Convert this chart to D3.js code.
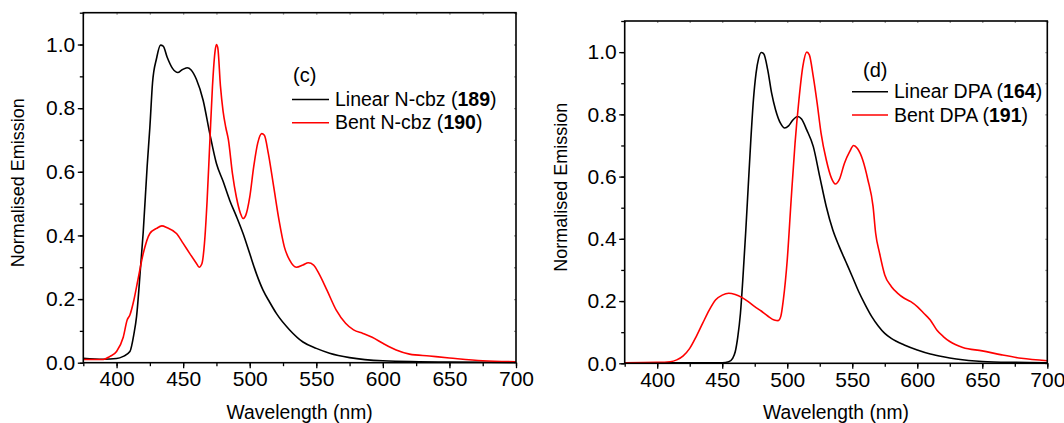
<!DOCTYPE html>
<html>
<head>
<meta charset="utf-8">
<script src="https://cdn.jsdelivr.net/npm/d3@7"></script>
<style>
  html, body { margin: 0; padding: 0; background: #fff; }
  svg { display: block; }
  text { font-family: "Liberation Sans", Arial, sans-serif; fill: #000; }
</style>
</head>
<body>
<svg id="chart" width="1064" height="423"></svg>
<script>
// ---------- DATA ----------
const xTicks = [400, 450, 500, 550, 600, 650, 700];
const yTicks = [0.0, 0.2, 0.4, 0.6, 0.8, 1.0];
const xLabel = "Wavelength (nm)";
const yLabel = "Normalised Emission";

// Panel (c)
const linearNcbzWl = [375,390,400,405,410,413,415,418,420,423,425,427,430,433,435,438,442,446,449,453,456,460,465,470,475,480,485,490,495,500,505,510,515,520,530,540,550,560,575,600,650,700];
const linearNcbzEm = [0.014,0.011,0.013,0.02,0.035,0.09,0.145,0.30,0.41,0.62,0.74,0.88,0.956,0.998,0.995,0.96,0.925,0.912,0.92,0.927,0.92,0.89,0.825,0.72,0.626,0.57,0.51,0.46,0.406,0.343,0.28,0.228,0.19,0.155,0.103,0.065,0.045,0.030,0.016,0.006,0.002,0.001];

const bentNcbzWl = [375,390,395,400,405,408,410,413,416,420,425,430,434,438,445,450,455,460,462,464,466,468,470,472,474,475,476,478,480,482,484,487,490,493,495,497,500,503,506,509,511,514,518,522,526,530,535,540,544,548,552,558,565,572,578,585,592,600,610,620,635,650,675,700];
const bentNcbzEm = [0.01,0.01,0.02,0.035,0.08,0.135,0.15,0.197,0.26,0.343,0.406,0.422,0.43,0.424,0.406,0.375,0.343,0.312,0.30,0.31,0.375,0.51,0.69,0.867,0.98,1.0,0.99,0.87,0.79,0.74,0.70,0.595,0.52,0.47,0.453,0.463,0.52,0.616,0.69,0.72,0.715,0.657,0.553,0.448,0.364,0.322,0.30,0.307,0.314,0.307,0.28,0.228,0.165,0.124,0.103,0.092,0.08,0.061,0.04,0.027,0.021,0.015,0.006,0.003];

// Panel (d)
const linearDpaWl = [375,450,455,458,460,462,464,466,468,470,472,474,476,478,480,482,485,488,491,495,498,501,504,508,511,515,520,525,530,535,540,545,550,555,560,565,570,575,580,590,600,610,620,630,650,675,700];
const linearDpaEm = [0.002,0.002,0.005,0.016,0.037,0.086,0.16,0.28,0.418,0.568,0.718,0.847,0.932,0.98,0.999,0.994,0.943,0.868,0.815,0.77,0.756,0.763,0.78,0.793,0.785,0.75,0.697,0.60,0.504,0.429,0.375,0.327,0.279,0.23,0.188,0.15,0.12,0.096,0.08,0.059,0.043,0.03,0.021,0.014,0.006,0.003,0.002];

const bentDpaWl = [375,400,410,415,420,425,430,435,440,445,450,455,460,465,470,475,480,485,490,493,495,497,500,503,506,509,512,515,517,520,523,526,530,534,537,540,544,548,551,554,558,562,566,568,571,575,580,585,590,595,600,605,610,615,620,625,635,650,665,680,700];
const bentDpaEm = [0.002,0.003,0.005,0.011,0.024,0.048,0.086,0.129,0.171,0.204,0.219,0.225,0.221,0.212,0.198,0.182,0.168,0.152,0.139,0.137,0.15,0.204,0.332,0.525,0.707,0.847,0.954,1.0,0.991,0.922,0.836,0.74,0.654,0.595,0.576,0.59,0.643,0.68,0.70,0.69,0.654,0.59,0.504,0.418,0.354,0.284,0.247,0.225,0.209,0.198,0.182,0.161,0.139,0.107,0.086,0.07,0.051,0.04,0.027,0.016,0.008];

const panelTags = ["(c)", "(d)"];
const legendNames = [
  ["Linear N-cbz (", "189", ")"], ["Bent N-cbz (", "190", ")"],
  ["Linear DPA (", "164", ")"], ["Bent DPA (", "191", ")"]
];
const seriesColors = ["#000000", "#ff0000"];

// ---------- DRAW ----------
const svg = d3.select("#chart");

const panels = [
  { left: 83.3, right: 516, top: 12.7, bottom: 362.7, yTitleX: 24,
    series: [[linearNcbzWl, linearNcbzEm], [bentNcbzWl, bentNcbzEm]],
    tag: panelTags[0], names: [legendNames[0], legendNames[1]],
    legend: { tagX: 293, tagY: 82, lineX1: 292, lineX2: 329, y1: 99.5, y2: 122.7, textX: 335 } },
  { left: 624.7, right: 1047.3, top: 21, bottom: 363.3, yTitleX: 567,
    series: [[linearDpaWl, linearDpaEm], [bentDpaWl, bentDpaEm]],
    tag: panelTags[1], names: [legendNames[2], legendNames[3]],
    legend: { tagX: 863, tagY: 77, lineX1: 852, lineX2: 888, y1: 91.7, y2: 115, textX: 894 } }
];

panels.forEach(p => {
  const x = d3.scaleLinear().domain([375, 700]).range([p.left, p.right]);
  const y = d3.scaleLinear().domain([0, 1.1]).range([p.bottom, p.top]);
  const g = svg.append("g");

  // curves
  const line = d3.line().x(d => x(d[0])).y(d => y(d[1])).curve(d3.curveMonotoneX);
  p.series.forEach((s, i) => {
    const pts = s[0].map((w, k) => [w, s[1][k]]);
    g.append("path").datum(pts)
      .attr("d", line).attr("fill", "none")
      .attr("stroke", seriesColors[i]).attr("stroke-width", 1.6)
      .attr("stroke-linejoin", "round");
  });

  // minor ticks bottom / left (outward)
  const minorX = d3.range(375, 701, 25);
  const minorY = d3.range(0, 1.101, 0.1);
  g.append("g").attr("transform", `translate(0,${p.bottom})`)
    .call(d3.axisBottom(x).tickValues(minorX).tickSize(3.5).tickFormat(""))
    .call(a => a.select(".domain").remove());
  g.append("g").attr("transform", `translate(${p.left},0)`)
    .call(d3.axisLeft(y).tickValues(minorY).tickSize(3.5).tickFormat(""))
    .call(a => a.select(".domain").remove());

  // top / right faint inward ticks
  g.append("g").attr("transform", `translate(0,${p.top})`)
    .call(d3.axisBottom(x).tickValues(minorX).tickSize(2).tickFormat(""))
    .call(a => a.select(".domain").remove())
    .selectAll("line").attr("stroke", "#999");
  g.append("g").attr("transform", `translate(${p.right},0)`)
    .call(d3.axisLeft(y).tickValues(minorY).tickSize(2).tickFormat(""))
    .call(a => a.select(".domain").remove())
    .selectAll("line").attr("stroke", "#999");

  // major axes
  const ax = g.append("g").attr("transform", `translate(0,${p.bottom})`)
    .call(d3.axisBottom(x).tickValues(xTicks).tickSize(5.5).tickPadding(3).tickFormat(d3.format("d")));
  const ay = g.append("g").attr("transform", `translate(${p.left},0)`)
    .call(d3.axisLeft(y).tickValues(yTicks).tickSize(5.5).tickPadding(2.5).tickFormat(d3.format(".1f")));
  [ax, ay].forEach(a => {
    a.select(".domain").remove();
    a.selectAll("line").attr("stroke", "#000").attr("stroke-width", 1.5);
    a.selectAll("text").style("font-size", "21px").style("font-family", "'Liberation Sans', Arial, sans-serif").attr("fill", "#000");
  });
  g.selectAll("g.tick line").attr("stroke-width", 1.3);

  // frame
  g.append("rect").attr("x", p.left).attr("y", p.top)
    .attr("width", p.right - p.left).attr("height", p.bottom - p.top)
    .attr("fill", "none").attr("stroke", "#000").attr("stroke-width", 1.6);

  // axis titles
  g.append("text").attr("x", (p.left + p.right) / 2).attr("y", 419)
    .attr("text-anchor", "middle").style("font-size", "19.3px").text(xLabel);
  g.append("text")
    .attr("transform", `translate(${p.yTitleX},${(p.top + p.bottom) / 2 - 5}) rotate(-90)`)
    .attr("text-anchor", "middle").style("font-size", "18px").text(yLabel);

  // legend
  const L = p.legend;
  g.append("text").attr("x", L.tagX).attr("y", L.tagY).style("font-size", "20px").text(p.tag);
  [L.y1, L.y2].forEach((ly, i) => {
    g.append("line").attr("x1", L.lineX1).attr("x2", L.lineX2).attr("y1", ly).attr("y2", ly)
      .attr("stroke", seriesColors[i]).attr("stroke-width", 1.6);
    const t = g.append("text").attr("x", L.textX).attr("y", ly + 6.5).style("font-size", "19.5px");
    t.append("tspan").text(p.names[i][0]);
    t.append("tspan").style("font-weight", "bold").text(p.names[i][1]);
    t.append("tspan").text(p.names[i][2]);
  });
});
</script>
</body>
</html>
